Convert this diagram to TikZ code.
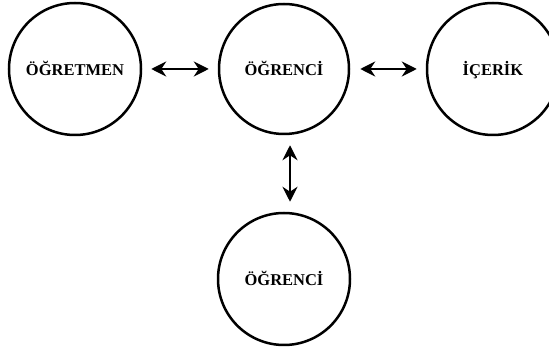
\documentclass[tikz,border=0pt]{standalone}
\usepackage{fontspec}
\setmainfont{Liberation Serif}
\usetikzlibrary{arrows.meta}
\begin{document}
\begin{tikzpicture}[x=1pt,y=1pt,
  bubble/.style={circle,draw,line width=2.5pt,minimum size=132pt,inner sep=0pt,
    text height=14pt,text depth=0pt,
    font=\bfseries\fontsize{16.5}{16.5}\selectfont},
  link/.style={line width=2.2pt,{Stealth[length=15pt,width=15pt,inset=5pt]}-{Stealth[length=15pt,width=15pt,inset=5pt]}}]
\useasboundingbox (0,0) rectangle (549,348);
\clip (0,0) rectangle (549,348);
\node[bubble] (L) at (75,279) {ÖĞRETMEN};
\node[bubble,minimum size=130pt] (M) at (284,279) {ÖĞRENCİ};
\node[bubble] (R) at (493,279) {İÇERİK};
\node[bubble] (B) at (284,69) {ÖĞRENCİ};
\draw[link,shorten <=9pt,shorten >=9pt] (L) -- (M);
\draw[link,shorten <=10pt,shorten >=9pt] (M) -- (R);
\draw[link] ([shift={(6,-10)}]M.south) -- ([shift={(6,10)}]B.north);
\end{tikzpicture}
\end{document}
